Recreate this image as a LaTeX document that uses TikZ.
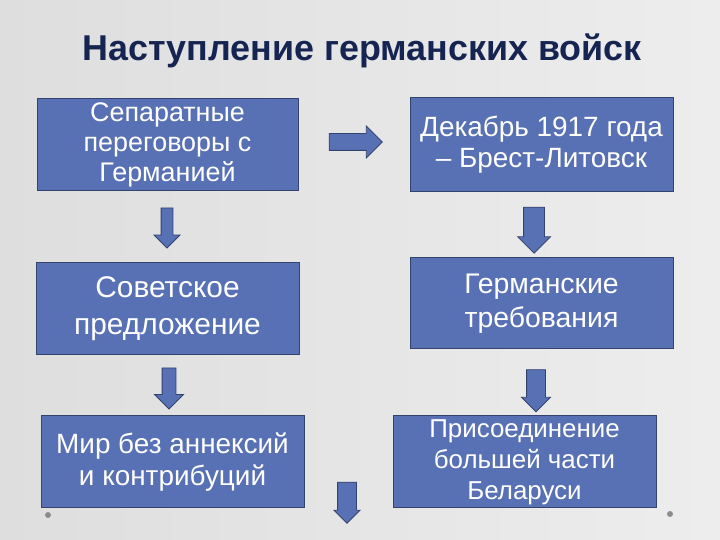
\documentclass[tikz,border=0pt]{standalone}
\usepackage{fontspec}
\setmainfont{Liberation Sans}
\usetikzlibrary{shapes.arrows}

\definecolor{boxblue}{RGB}{88,112,180}
\definecolor{boxline}{RGB}{52,66,110}
\definecolor{titleblue}{RGB}{22,36,82}

\tikzset{
	stepbox/.style={draw=boxline, line width=1pt, fill=boxblue, text=white, align=center,
		minimum width=263bp, minimum height=92bp, inner sep=1pt, font=\fontsize{28}{32}\selectfont},
	blockarr/.style={single arrow, draw=boxline, line width=0.8pt, fill=boxblue, inner sep=0pt,
		text depth=0pt, single arrow tip angle=90}
}

\begin{document}
\begin{tikzpicture}[x=1bp,y=1bp]
		\shade[left color=black!13, middle color=white, right color=black!7] (0,0) rectangle (720,540);
		\useasboundingbox (0,0) rectangle (720,540);
		\node[text=titleblue, font=\fontsize{36}{40}\selectfont\bfseries] (title) at (362,489) {Наступление германских войск};
		% boxes
		\node[stepbox, minimum width=261bp, font=\fontsize{27}{30}\selectfont] (sep) at (167.5,395) {Сепаратные\\переговоры с\\Германией};
		\node[stepbox, minimum height=94bp, font=\fontsize{28}{31}\selectfont] (dec) at (541.5,395) {Декабрь 1917 года\\– Брест-Литовск};
		\node[stepbox, font=\fontsize{30}{37}\selectfont] (sov) at (167.5,231) {Советское\\предложение};
		\node[stepbox, minimum height=91bp, font=\fontsize{28.5}{34}\selectfont] (ger) at (541.5,236.5) {Германские\\требования};
		\node[stepbox] (mir) at (172.5,78) {Мир без аннексий\\и контрибуций};
		\node[stepbox, font=\fontsize{26}{31}\selectfont] (pris) at (524.5,78) {Присоединение\\большей части\\Беларуси};
		% arrows
		\node[blockarr, minimum height=53bp, text height=16bp, single arrow head extend=7.5bp] (a1) at (351.5,398) {};
		\node[blockarr, rotate=-90, minimum height=40bp, text height=11bp, single arrow head extend=7bp] (a2) at (167,315) {};
		\node[blockarr, rotate=-90, minimum height=46bp, text height=20bp, single arrow head extend=6bp] (a3) at (534,315) {};
		\node[blockarr, rotate=-90, minimum height=41bp, text height=13bp, single arrow head extend=7.5bp] (a4) at (169,155) {};
		\node[blockarr, rotate=-90, minimum height=42bp, text height=18bp, single arrow head extend=5bp] (a5) at (536,154) {};
		\node[blockarr, rotate=-90, minimum height=41bp, text height=18bp, single arrow head extend=3.5bp] (a6) at (347,42) {};
		% corner dots
		\fill[black!45] (48,25) circle (3bp);
		\fill[black!45] (670,26) circle (3bp);
	\end{tikzpicture}
\end{document}
